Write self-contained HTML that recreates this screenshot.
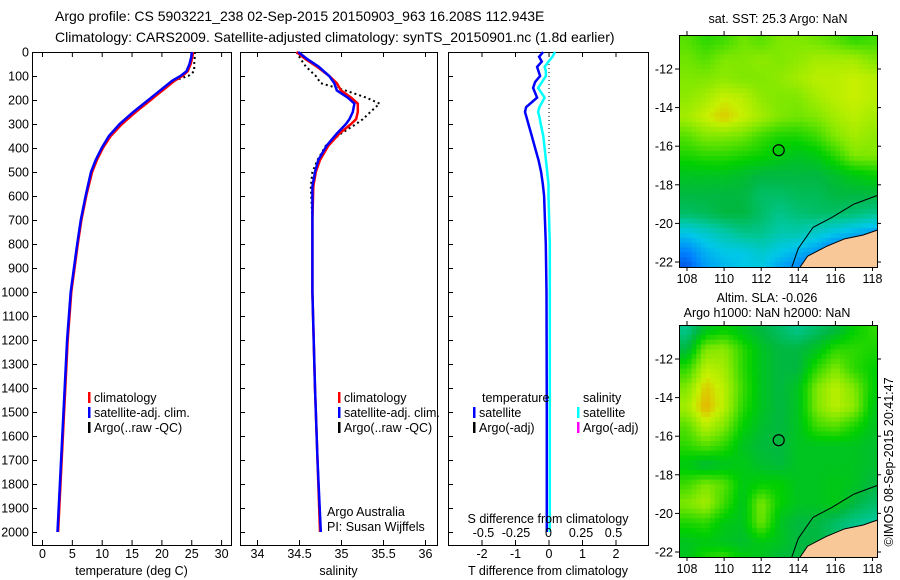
<!DOCTYPE html>
<html><head><meta charset="utf-8"><style>
body{margin:0;background:#fff}
svg{display:block}
text{font-family:"Liberation Sans",sans-serif;font-size:12.5px;fill:#000}
</style></head><body>
<svg id="chart" width="900" height="580" viewBox="0 0 900 580" xmlns="http://www.w3.org/2000/svg">
<text x="55" y="21" style="font-size:14px">Argo profile: CS 5903221_238 02-Sep-2015 20150903_963 16.208S 112.943E</text>
<text x="55" y="42" style="font-size:14px">Climatology: CARS2009. Satellite-adjusted climatology: synTS_20150901.nc (1.8d earlier)</text>
<g id="g"></g>
</svg>
<script>
// ---- data ----
const depthT=[0,20,50,80,100,120,150,180,200,250,300,350,400,450,500,600,700,800,1000,1200,1400,1600,1800,2000];
const tempSat=[25.1,25.0,24.7,24.2,23.2,21.8,20.3,18.8,17.8,15.3,13.0,11.2,10.0,9.0,8.2,7.3,6.5,5.9,4.8,4.2,3.8,3.4,3.0,2.6];
const tempClim=[25.3,25.2,24.9,24.4,23.5,22.2,20.7,19.2,18.2,15.7,13.4,11.5,10.2,9.2,8.4,7.4,6.6,6.0,4.9,4.3,3.9,3.5,3.1,2.7];
const tempArgo=[25.6,25.6,25.5,25.5,24.5,22.0,20.3,19.0,17.8,15.3,13.0,11.2,10.0,9.0,8.2,7.3,6.5,5.9,4.8,4.2,3.8,3.4,3.0,2.6];
const depthS=[0,30,60,100,130,160,190,215,250,280,300,340,390,450,500,560,700,1000,1400,1700,2000];
const salSat=[34.49,34.6,34.73,34.86,34.92,34.95,35.08,35.16,35.14,35.1,35.06,34.95,34.83,34.73,34.69,34.66,34.66,34.66,34.69,34.72,34.76];
const salClim=[34.47,34.58,34.71,34.86,34.95,35.0,35.12,35.2,35.2,35.18,35.12,34.98,34.85,34.75,34.7,34.67,34.66,34.66,34.69,34.72,34.75];
const salArgo=[34.47,34.52,34.58,34.7,34.76,35.05,35.3,35.46,35.35,35.26,35.18,35.0,34.82,34.72,34.66,34.64,34.66,34.66,34.69,34.72,34.76];
const depthD=[0,20,40,62,80,100,125,150,190,230,250,270,300,350,400,450,500,550,600,800,1000,1500,2000];
const tDiff=[-0.16,-0.28,-0.2,-0.34,-0.3,-0.25,-0.4,-0.46,-0.34,-0.67,-0.7,-0.66,-0.6,-0.5,-0.4,-0.3,-0.22,-0.17,-0.13,-0.08,-0.06,-0.05,-0.05];
const sDiff=[0.05,0.03,0.0,-0.03,-0.02,-0.02,-0.05,-0.08,-0.03,-0.07,-0.08,-0.07,-0.06,-0.04,-0.03,-0.02,-0.01,0.0,0.0,0.01,0.01,0.01,0.01];
const depthTicks=[0,100,200,300,400,500,600,700,800,900,1000,1100,1200,1300,1400,1500,1600,1700,1800,1900,2000];
const tempTicks=[0,5,10,15,20,25,30];
const salTicks=[34,34.5,35,35.5,36];
const tDiffTicks=[-2,-1,0,1,2];
const sDiffTicks=[-0.5,-0.25,0,0.25,0.5];
const sDiffLabels=['-0.5','-0.25','0','0.25','0.5'];
const lonTicks=[108,110,112,114,116,118];
const latTicks=[-12,-14,-16,-18,-20,-22];
const cellLons=[108,109,110,111,112,113,114,115,116,117,118];
const cellLats=[-10.5,-11.5,-12.5,-13.5,-14.5,-15.5,-16.5,-17.5,-18.5,-19.5,-20.5,-21.5,-22.5];
const sstGrid=[
[0.75,0.7,0.72,0.78,0.75,0.8,0.8,0.78,0.75,0.7,0.72],
[0.78,0.75,0.8,0.8,0.82,0.8,0.82,0.85,0.85,0.85,0.8],
[0.8,0.8,0.82,0.8,0.8,0.82,0.85,0.88,0.88,0.9,0.88],
[0.82,0.85,0.9,0.88,0.82,0.8,0.8,0.85,0.88,0.9,0.88],
[0.85,0.9,0.95,0.9,0.85,0.8,0.78,0.8,0.85,0.88,0.85],
[0.75,0.8,0.8,0.78,0.72,0.68,0.68,0.72,0.8,0.85,0.82],
[0.68,0.7,0.7,0.68,0.66,0.62,0.6,0.62,0.7,0.8,0.8],
[0.6,0.6,0.6,0.58,0.55,0.55,0.55,0.55,0.58,0.62,0.65],
[0.55,0.55,0.55,0.55,0.5,0.5,0.52,0.52,0.55,0.55,0.55],
[0.5,0.52,0.55,0.55,0.5,0.45,0.48,0.5,0.5,0.48,0.45],
[0.3,0.35,0.4,0.45,0.45,0.4,0.4,0.35,0.3,0.25,0.2],
[0.15,0.25,0.3,0.3,0.35,0.3,0.25,0.2,0.1,0.15,0.2],
[0.05,0.2,0.25,0.3,0.3,0.2,0.15,0.1,0.05,0.1,0.2]];
const slaGrid=[
[0.45,0.6,0.65,0.6,0.55,0.5,0.45,0.5,0.55,0.65,0.7],
[0.55,0.8,0.82,0.7,0.6,0.55,0.55,0.6,0.7,0.7,0.68],
[0.7,0.88,0.85,0.7,0.6,0.55,0.55,0.7,0.8,0.7,0.65],
[0.8,0.95,0.88,0.72,0.6,0.55,0.6,0.8,0.88,0.8,0.65],
[0.85,0.98,0.88,0.7,0.6,0.55,0.6,0.8,0.88,0.82,0.62],
[0.75,0.88,0.8,0.65,0.58,0.55,0.6,0.72,0.75,0.68,0.6],
[0.7,0.75,0.7,0.6,0.56,0.55,0.6,0.6,0.6,0.6,0.58],
[0.62,0.56,0.6,0.62,0.58,0.56,0.6,0.6,0.6,0.6,0.58],
[0.72,0.8,0.75,0.62,0.65,0.65,0.6,0.6,0.62,0.6,0.55],
[0.8,0.85,0.72,0.6,0.8,0.65,0.6,0.6,0.62,0.55,0.5],
[0.68,0.7,0.62,0.6,0.78,0.6,0.55,0.55,0.5,0.45,0.42],
[0.6,0.62,0.6,0.58,0.62,0.6,0.55,0.55,0.5,0.45,0.42],
[0.6,0.7,0.75,0.65,0.6,0.55,0.55,0.55,0.5,0.45,0.42]];
const landLon=[114.0,114.5,115.5,116.5,117.5,118.4,118.4];
const landLat=[-22.4,-21.7,-21.2,-20.8,-20.6,-20.3,-22.4];
const isoLon=[113.6,114.0,114.8,115.8,117.0,118.4];
const isoLat=[-22.4,-21.3,-20.2,-19.7,-19.0,-18.5];
const argoLon=112.943, argoLat=-16.208;

const NS='http://www.w3.org/2000/svg';
const G=document.getElementById('g');
function el(tag,attrs,parent){const e=document.createElementNS(NS,tag);for(const k in attrs)e.setAttribute(k,attrs[k]);(parent||G).appendChild(e);return e;}
const Y0=52, YPX=0.24, PT=52, PB=545;
const dy=d=>Y0+d*YPX;
const txT=v=>42+v*5.97;
const txS=v=>257+(v-34)*84;
const txTD=v=>548.5+v*33.5;
const txSD=v=>548.5+v*130;
function poly(xs,ys,xf,yf,color,w,dash,name){
  const p=xs.map((v,i)=>xf(v).toFixed(1)+','+yf(ys[i]).toFixed(1)).join(' ');
  const e=el('polyline',{points:p,fill:'none',stroke:color,'stroke-width':w});
  if(dash)e.setAttribute('stroke-dasharray',dash);
  
  
}
function txt(x,y,s,name,anchor){const t=el('text',{x:x,y:y});if(anchor)t.setAttribute('text-anchor',anchor);t.textContent=s;
  
  return t;}
function panel(x0,x1,name,xticks,xf,labels,xlabel){
  const r=el('rect',{x:x0+.5,y:PT+.5,width:x1-x0,height:PB-PT,fill:'#fff',stroke:'#000'});
  
  
  depthTicks.forEach(d=>{el('line',{x1:x0,x2:x0+5,y1:dy(d)+.5,y2:dy(d)+.5,stroke:'#000'});});
  xticks.forEach((v,i)=>{const x=xf(v)+.5;
    el('line',{x1:x,x2:x,y1:PT,y2:PT+5,stroke:'#000'});
    el('line',{x1:x,x2:x,y1:PB,y2:PB-5,stroke:'#000'});
    txt(x,PB+13,labels?labels[i]:String(v),'x-tick-label','middle');
  });
  txt((x0+x1)/2,575,xlabel,'x-axis-title','middle');
}
depthTicks.forEach(d=>{txt(29,dy(d)+4.5,String(d),'depth-tick-label','end');});
panel(32,231,'temperature-panel',tempTicks,txT,null,'temperature (deg C)');
panel(240,437,'salinity-panel',salTicks,txS,null,'salinity');
panel(448,648,'difference-panel',tDiffTicks,txTD,null,'T difference from climatology');
poly(tempArgo,depthT,txT,dy,'#000',2,'2,3','temp-argo-line');
poly(tempClim,depthT,txT,dy,'#ff0000',2.5,null,'temp-clim-line');
poly(tempSat,depthT,txT,dy,'#0000ff',2.5,null,'temp-sat-line');
poly(salArgo,depthS,txS,dy,'#000',2,'2,3','sal-argo-line');
poly(salClim,depthS,txS,dy,'#ff0000',2.5,null,'sal-clim-line');
poly(salSat,depthS,txS,dy,'#0000ff',2.5,null,'sal-sat-line');
el('line',{x1:549,x2:549,y1:PT,y2:dy(430),stroke:'#000','stroke-dasharray':'1,3'});
poly(sDiff,depthD,txSD,dy,'#00ffff',2.5,null,'sal-diff-line');
poly(tDiff,depthD,txTD,dy,'#0000ff',2.5,null,'temp-diff-line');
sDiffTicks.forEach((v,i)=>{txt(txSD(v),537,sDiffLabels[i],'s-diff-tick-label','middle');});
txt(548,523,'S difference from climatology','s-diff-axis-title','middle');
txt(327,516,'Argo Australia','credit-line-1');
txt(327,531,'PI: Susan Wijffels','credit-line-2');
function leg(x,y,color,label,name){el('rect',{x:x,y:y-10,width:2.5,height:11,fill:color});txt(x+6,y,label,name);}
leg(88,402,'#ff0000','climatology','legend-climatology');
leg(88,417,'#0000ff','satellite-adj. clim.','legend-satellite');
leg(88,432,'#000','Argo(..raw -QC)','legend-argo');
leg(338,402,'#ff0000','climatology','legend-climatology-2');
leg(338,417,'#0000ff','satellite-adj. clim.','legend-satellite-2');
leg(338,432,'#000','Argo(..raw -QC)','legend-argo-2');
txt(482,402,'temperature','legend-temperature-header');
txt(583,402,'salinity','legend-salinity-header');
leg(473,417,'#0000ff','satellite','legend-t-satellite');
leg(473,432,'#000','Argo(-adj)','legend-t-argo');
leg(577,417,'#00ffff','satellite','legend-s-satellite');
leg(577,432,'#ff00ff','Argo(-adj)','legend-s-argo');
// maps
const MX0=679,MX1=877;
const mx=lon=>687+(lon-108)*18.55;
const stops=[[0,[0,48,208]],[0.15,[0,128,255]],[0.3,[0,200,232]],[0.42,[0,200,160]],[0.55,[0,184,64]],[0.65,[0,208,0]],[0.8,[128,232,0]],[0.9,[200,240,0]],[1,[240,160,0]]];
function cmap(v){v=Math.max(0,Math.min(1,v));for(let i=1;i<stops.length;i++){if(v<=stops[i][0]){const a=stops[i-1],b=stops[i];const f=(v-a[0])/(b[0]-a[0]);return 'rgb('+a[1].map((c,j)=>Math.round(c+(b[1][j]-c)*f)).join(',')+')';}}return 'rgb(240,160,0)';}
function sample(grid,lon,lat){
  let fc=(lon-cellLons[0])/(cellLons[1]-cellLons[0]); let fr=(lat-cellLats[0])/(cellLats[1]-cellLats[0]);
  fc=Math.max(0,Math.min(cellLons.length-1.001,fc)); fr=Math.max(0,Math.min(cellLats.length-1.001,fr));
  const c=Math.floor(fc),r=Math.floor(fr),a=fc-c,b=fr-r;
  return grid[r][c]*(1-a)*(1-b)+grid[r][c+1]*a*(1-b)+grid[r+1][c]*(1-a)*b+grid[r+1][c+1]*a*b;
}
function map(off,grid,name,title1,title2,idx,step){
  const MY0=35+off,MY1=267+off;
  const my=lat=>69+off+(-12-lat)*19.3;
  const cp=el('clipPath',{id:'clip'+idx});el('rect',{x:MX0,y:MY0,width:MX1-MX0,height:MY1-MY0},cp);
  const g=el('g',{'clip-path':'url(#clip'+idx+')'});
  
  
  for(let lon=107.5;lon<118.5;lon+=step){for(let lat=-10;lat>-22.5;lat-=step){
    const v=sample(grid,lon+step/2,lat-step/2);
    const cell=el('rect',{x:mx(lon).toFixed(1),y:my(lat).toFixed(1),width:(step*18.55+0.6).toFixed(1),height:(step*19.3+0.6).toFixed(1),fill:cmap(v)},g);
    
    
  }}
  const land=el('polygon',{points:landLon.map((v,i)=>mx(v)+','+my(landLat[i])).join(' '),fill:'#f8c898',stroke:'#000','stroke-width':1},g);
  
  
  const iso=el('polyline',{points:isoLon.map((v,i)=>mx(v)+','+my(isoLat[i])).join(' '),fill:'none',stroke:'#000','stroke-width':1},g);
  
  
  const c=el('circle',{cx:mx(argoLon),cy:my(argoLat),r:5.5,fill:'none',stroke:'#000','stroke-width':1.2});
  
  
  el('rect',{x:MX0+.5,y:MY0+.5,width:MX1-MX0,height:MY1-MY0,fill:'none',stroke:'#000'});
  lonTicks.forEach(v=>{const x=mx(v);el('line',{x1:x,x2:x,y1:MY0-4,y2:MY0,stroke:'#000'});el('line',{x1:x,x2:x,y1:MY1,y2:MY1+4,stroke:'#000'});
    txt(x,MY1+16,String(v),'lon-tick-label','middle');});
  latTicks.forEach(v=>{const y=my(v);el('line',{x1:MX0-4,x2:MX0,y1:y,y2:y,stroke:'#000'});el('line',{x1:MX1,x2:MX1+4,y1:y,y2:y,stroke:'#000'});
    txt(MX0-6,y+4.5,String(v),'lat-tick-label','end');});
  if(title2){txt(767,off+12,title1,'map-title-1','middle');txt(767,off+27,title2,'map-title-2','middle');}
  else txt(778,off+23,title1,'map-title','middle');
}
map(0,sstGrid,'sst-map','sat. SST: 25.3 Argo: NaN',null,1,0.25);
map(290,slaGrid,'sla-map','Altim. SLA: -0.026','Argo h1000: NaN h2000: NaN',2,0.25);
const r=txt(0,0,'©IMOS 08-Sep-2015 20:41:47','timestamp','middle');
r.setAttribute('transform','translate(893,462) rotate(-90)');
</script>
</body></html>
